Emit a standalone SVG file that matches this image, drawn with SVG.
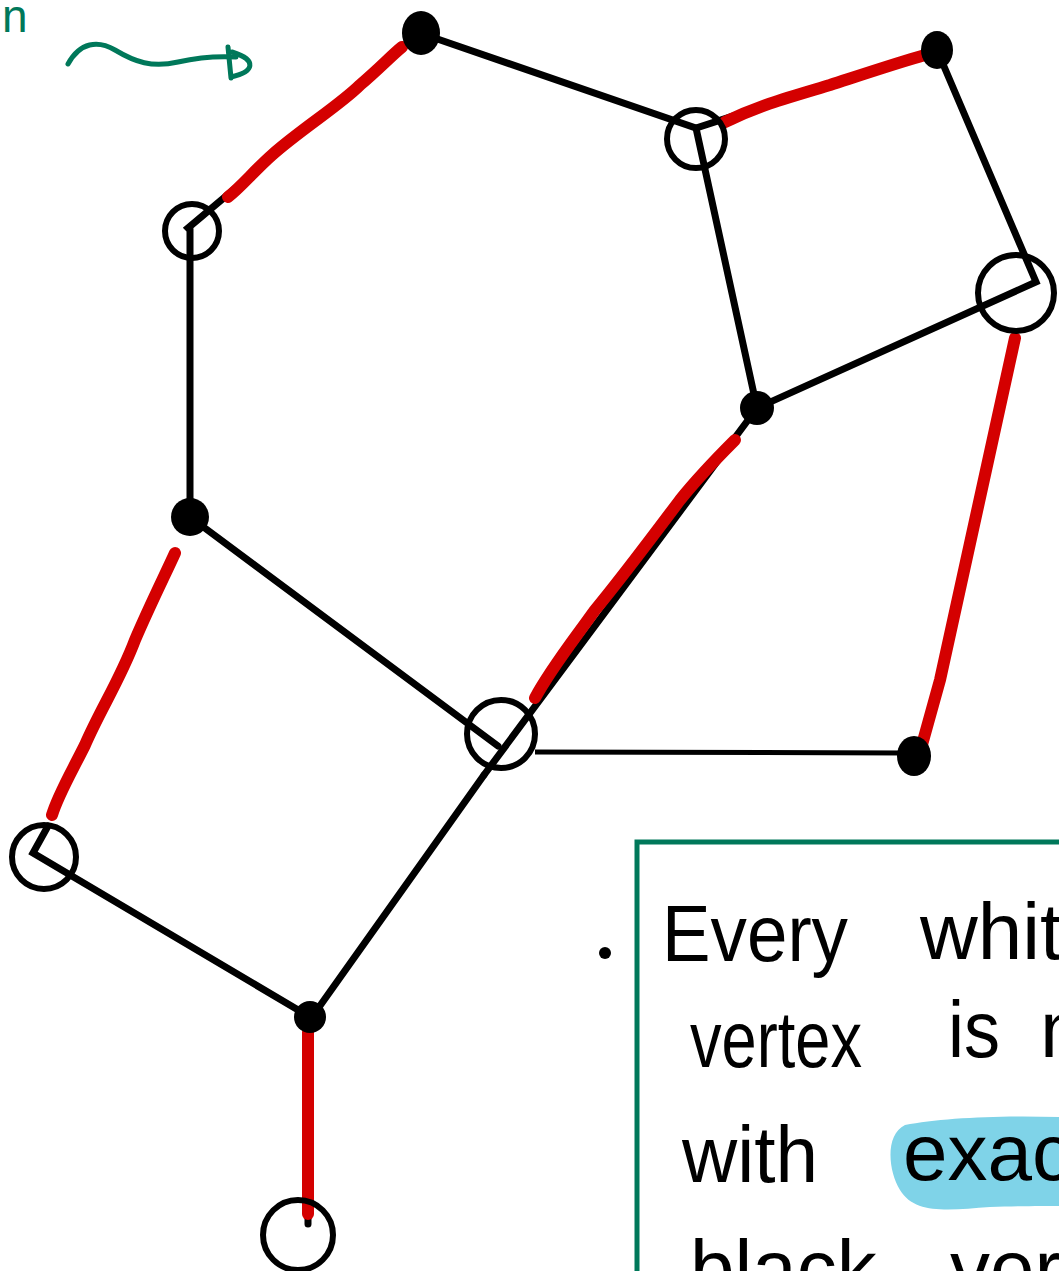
<svg xmlns="http://www.w3.org/2000/svg" width="1059" height="1271" viewBox="0 0 1059 1271">
<style>
.e{stroke:#000;stroke-width:7;fill:none;stroke-linecap:round;stroke-linejoin:miter}
.thin{stroke:#000;stroke-width:5;fill:none}
.r{stroke:#d40000;stroke-width:12;fill:none;stroke-linecap:round;stroke-linejoin:round}
.w{fill:none;stroke:#000;stroke-width:6}
.b{fill:#000}
.hw{font-family:"Liberation Sans","DejaVu Sans",sans-serif;font-size:80px;fill:#000}
.g{stroke:#00785a;fill:none;stroke-linecap:round;stroke-linejoin:round}
</style>
<rect width="1059" height="1271" fill="#fff"/>
<g id="annotation">
<text x="2" y="32" font-family="Liberation Sans, sans-serif" font-size="46" fill="#00785a">n</text>
<path class="g" stroke-width="5" d="M68,64 C80,42 98,40 115,50 C135,62 152,68 178,62 C200,57 220,56 236,57"/>
<path class="g" stroke-width="5" d="M228,47 L231,78 M232,52 C258,60 254,72 231,77"/>
</g>
<g id="connectors">
<polyline class="e" points="420,33 188,228 190,230 190,517"/>
<polyline class="e" points="420,33 696,128 937,50"/>
<line class="e" x1="696" y1="128" x2="757" y2="408"/>
<polyline class="e" points="937,50 1036,282 757,408"/>
<line class="e" x1="757" y1="408" x2="484" y2="775"/>
<line class="e" x1="484" y1="775" x2="312" y2="1017"/>
<line class="e" x1="190" y1="517" x2="498" y2="746"/>
<line class="thin" x1="535" y1="752" x2="905" y2="753"/>
<polyline class="e" points="48,826 33,853 310,1017"/>
<line class="e" x1="308" y1="1215" x2="308" y2="1224"/>
<path class="r" d="M228,197 C240,188 255,170 272,155 C300,130 340,105 360,85 C380,68 392,55 402,47"/>
<path class="r" d="M725,122 C760,105 790,97 830,85 C870,72 900,62 925,55"/>
<path class="r" d="M735,440 C720,455 700,475 680,500 C650,540 620,580 595,610 C570,645 550,670 535,698"/>
<path class="r" d="M1015,338 L940,680 L920,752"/>
<path class="r" d="M175,553 C165,575 150,605 135,640 C120,680 100,710 85,745 C70,775 58,795 52,815"/>
<line class="r" x1="308" y1="1032" x2="308" y2="1214"/>
</g>
<g id="node-A"><ellipse class="b" cx="421" cy="33" rx="19" ry="22"/></g>
<g id="node-B"><circle class="w" cx="696" cy="139" r="29"/></g>
<g id="node-C"><ellipse class="b" cx="937" cy="50" rx="16" ry="19"/></g>
<g id="node-D"><circle class="w" cx="1016" cy="293" r="38"/></g>
<g id="node-E"><circle class="b" cx="757" cy="408" r="17"/></g>
<g id="node-F"><circle class="w" cx="192" cy="231" r="27"/></g>
<g id="node-G"><circle class="b" cx="190" cy="517" r="19"/></g>
<g id="node-H"><circle class="w" cx="501" cy="734" r="34"/></g>
<g id="node-I"><ellipse class="b" cx="914" cy="756" rx="17" ry="20"/></g>
<g id="node-J"><circle class="w" cx="44" cy="857" r="32"/></g>
<g id="node-K"><circle class="b" cx="310" cy="1017" r="16"/></g>
<g id="node-L"><circle class="w" cx="298" cy="1235" r="35" stroke-width="5"/></g>
<g id="note">
<rect x="637" y="842" width="500" height="500" fill="none" stroke="#00785a" stroke-width="5"/>
<circle cx="605" cy="953" r="6" fill="#000"/>
<path d="M1059,1117 C1000,1115 940,1118 905,1125 C885,1135 888,1170 900,1190 C915,1215 950,1210 990,1207 C1020,1206 1045,1206 1059,1206 Z" fill="#7fd3e8"/>
<text class="hw" x="662" y="961" textLength="186" lengthAdjust="spacingAndGlyphs">Every</text>
<text class="hw" x="920" y="959">white</text>
<text class="hw" x="690" y="1067" textLength="172" lengthAdjust="spacingAndGlyphs">vertex</text>
<text class="hw" x="948" y="1057" textLength="52" lengthAdjust="spacingAndGlyphs">is</text>
<text class="hw" x="1040" y="1057">m</text>
<text class="hw" x="682" y="1182" textLength="136" lengthAdjust="spacingAndGlyphs">with</text>
<text class="hw" x="903" y="1180">exac</text>
<text class="hw" x="690" y="1296">black</text>
<text class="hw" x="950" y="1296">ver</text>
</g>
</svg>
